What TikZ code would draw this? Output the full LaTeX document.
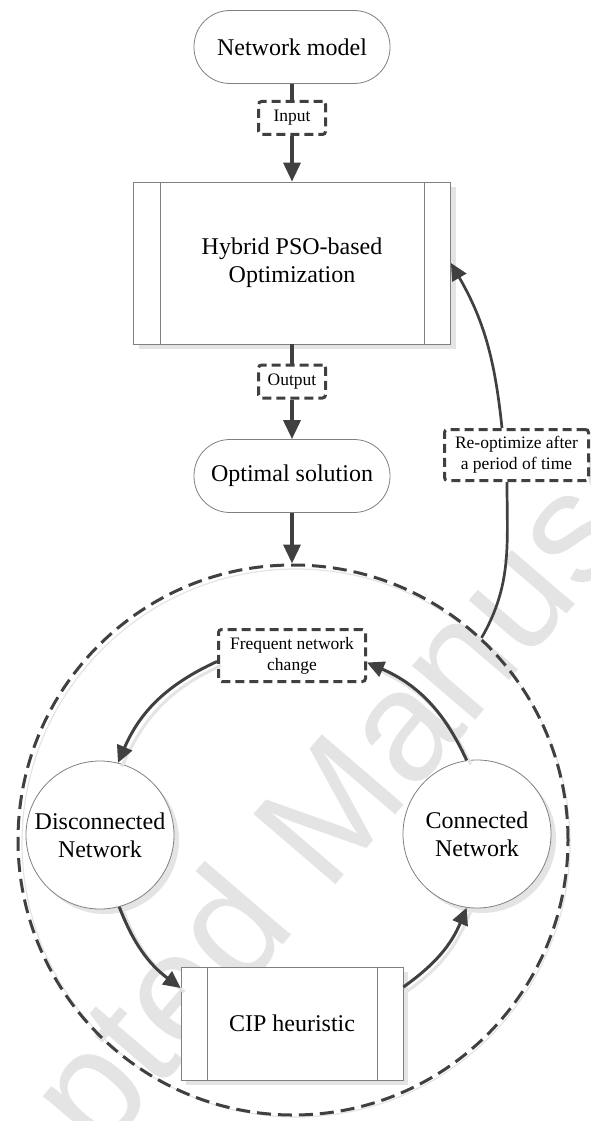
\documentclass[tikz,border=0pt]{standalone}
\usepackage{fontspec}
\setmainfont{Liberation Serif}
\newfontfamily\markfont{Liberation Sans}
\usetikzlibrary{arrows.meta,shadows,calc}
\definecolor{ink}{HTML}{404040}
\definecolor{rim}{HTML}{808080}
\definecolor{softgray}{HTML}{E4E4E4}
\begin{document}
\begin{tikzpicture}[x=1pt,y=1pt,
  every node/.style={inner sep=0pt},
  big/.style={font=\fontsize{24}{28}\selectfont, align=center},
  small/.style={font=\fontsize{17.5}{21}\selectfont, align=center},
  castshadow/.style={drop shadow={fill=softgray, opacity=1, shadow xshift=5pt, shadow yshift=-5pt}},
  terminal/.style={big, draw=rim, line width=0.8pt, fill=white, rounded corners=36pt, minimum width=196pt, minimum height=73pt},
  process/.style={big, draw=rim, line width=0.8pt, fill=white, castshadow},
  state/.style={big, circle, draw=rim, line width=0.8pt, fill=white, minimum size=148pt, castshadow},
  tag/.style={small, draw=ink, line width=3pt, dash pattern=on 9pt off 5pt, rounded corners=3pt, fill=white},
  stem/.style={draw=ink, line width=3.5pt},
  flow/.style={stem, -{Triangle[length=19pt,width=17pt]}},
  cycle/.style={draw=ink, line width=3pt, -{Triangle[length=17pt,width=16pt]},
    preaction={draw=softgray, line width=3pt, -, transform canvas={shift={(4pt,-4pt)}}}},
  feedback/.style={draw=ink, line width=2.7pt},
  sidebar/.style={draw=rim, line width=0.8pt},
]
\useasboundingbox (0,0) rectangle (591,-1121);

% faint background mark
\node[rotate=49.4, text=softgray, font=\markfont\fontsize{157}{157}\selectfont] (mark) at (319,-841) {Accepted Manuscript};

% dashed loop region with its soft outline
\draw[draw=softgray, line width=1.2pt] (296,-843) circle (274);
\node[circle, minimum size=550pt, draw=ink, line width=3pt, dash pattern=on 14pt off 7pt] (loop) at (293,-840) {};

% main flow
\node[terminal] (nm) at (292,-47) {Network model};
\node[tag, minimum width=67pt, minimum height=33pt] (in) at (292,-118) {Input};
\node[process, minimum width=317pt, minimum height=162pt] (pso) at (292,-263) {Hybrid PSO-based\\Optimization};
\draw[sidebar] ([xshift=27pt]pso.north west) -- ([xshift=27pt]pso.south west);
\draw[sidebar] ([xshift=-27pt]pso.north east) -- ([xshift=-27pt]pso.south east);
\node[tag, minimum width=67pt, minimum height=33pt] (out) at (292,-381.5) {Output};
\node[terminal] (opt) at (292,-476) {Optimal solution};
\node[tag, minimum width=144pt, minimum height=51pt] (reo) at (516.5,-455) {Re-optimize after\\a period of time};

% adaptation cycle
\node[tag, minimum width=147pt, minimum height=52pt] (freq) at (292,-655.5) {Frequent network\\change};
\node[state] (dis) at (100,-835) {Disconnected\\Network};
\node[state] (con) at (477,-834) {Connected\\Network};
\node[process, minimum width=222pt, minimum height=113pt] (cip) at (292,-1023.5) {CIP heuristic};
\draw[sidebar] ([xshift=27pt]cip.north west) -- ([xshift=27pt]cip.south west);
\draw[sidebar] ([xshift=-26pt]cip.north east) -- ([xshift=-26pt]cip.south east);

% connectors
\draw[stem] (nm.south) -- (in.north);
\draw[flow] (in.south) -- (pso.north);
\draw[stem] (pso.south) -- (out.north);
\draw[flow] (out.south) -- (opt.north);
\draw[flow] (opt.south) -- (opt.south |- loop.north);

\draw[cycle] ([yshift=-6pt]freq.west) to[bend right=21] (dis.76.5);
\draw[cycle] (dis.-75) to[bend right=16] ([yshift=35.5pt]cip.west);
\draw[cycle] ([yshift=36.5pt]cip.east) to[bend right=16] (con.-98);
\draw[cycle] (con.98) to[bend right=21] ([yshift=-7pt]freq.east);

\draw[feedback] (loop.47.5) to[out=60, in=-90] ([xshift=-9.5pt]reo.south);
\draw[feedback, -{Triangle[length=17pt,width=16pt]}] ([xshift=-14.5pt]reo.north) to[out=96, in=-60] (pso.east);
\end{tikzpicture}
\end{document}
